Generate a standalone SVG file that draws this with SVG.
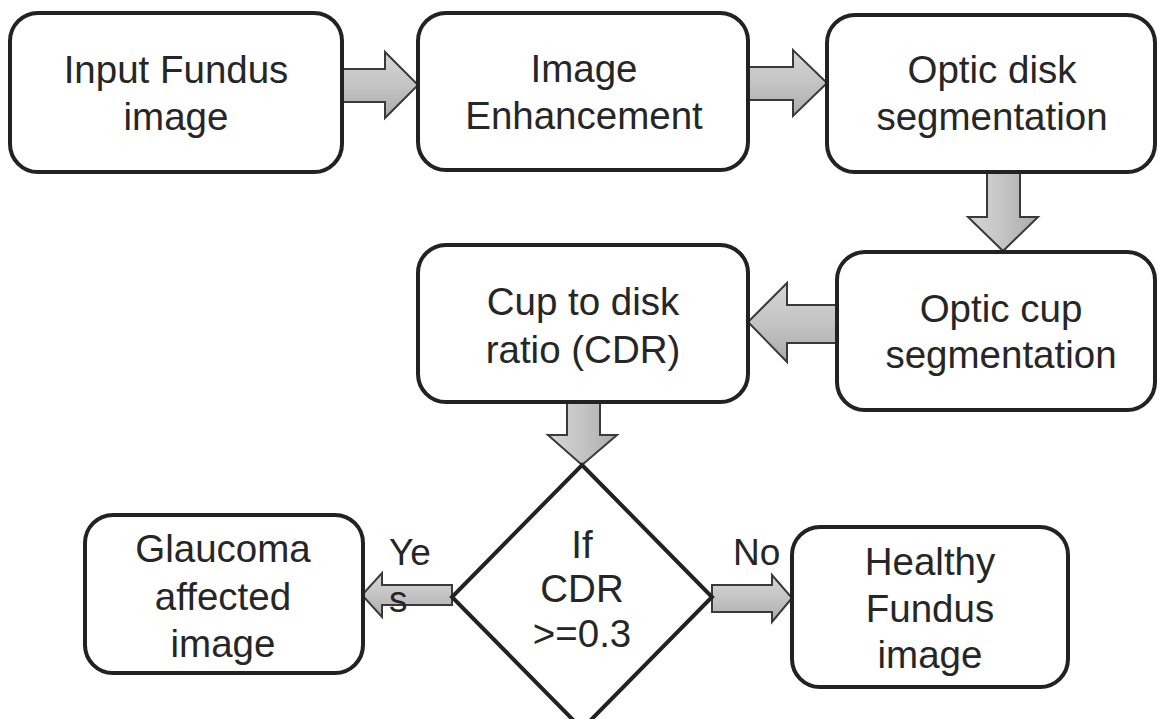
<svg xmlns="http://www.w3.org/2000/svg" width="1159" height="719" viewBox="0 0 1159 719">
  <defs>
    <linearGradient id="shadeH" x1="0" y1="0" x2="0" y2="1">
      <stop offset="0" stop-color="#d6d6d6"/>
      <stop offset="0.5" stop-color="#c4c4c4"/>
      <stop offset="1" stop-color="#ababab"/>
    </linearGradient>
    <linearGradient id="shadeV" x1="0" y1="0" x2="1" y2="0">
      <stop offset="0" stop-color="#d6d6d6"/>
      <stop offset="0.5" stop-color="#c4c4c4"/>
      <stop offset="1" stop-color="#ababab"/>
    </linearGradient>
  </defs>
  <style>
    .box { fill: #ffffff; stroke: #222222; stroke-width: 4; }
    .lbl { font-family: "Liberation Sans", Arial, Helvetica, sans-serif; font-size: 38.5px; fill: #262626; text-anchor: middle; }
    .side { font-family: "Liberation Sans", Arial, Helvetica, sans-serif; font-size: 37px; fill: #262626; }
    .arrH { fill: url(#shadeH); stroke: #3a3a3a; stroke-width: 2; stroke-linejoin: miter; }
    .arrV { fill: url(#shadeV); stroke: #3a3a3a; stroke-width: 2; stroke-linejoin: miter; }
  </style>
  <rect width="1159" height="719" fill="#ffffff"/>

  <!-- block arrows between the steps -->
  <g id="connectors">
    <polygon class="arrH" points="342,69 385,69 385,52 418,85 385,118 385,102 342,102"/>
    <polygon class="arrH" points="748,67 793,67 793,50 827,83 793,116 793,100 748,100"/>
    <polygon class="arrV" points="987,172 1020,172 1020,217 1038,217 1003,251 968,217 987,217"/>
    <polygon class="arrH" points="837,305 787,305 787,283 748,322 787,362 787,343 837,343"/>
    <polygon class="arrV" points="567,402 600,402 600,435 617,435 582,465 548,435 567,435"/>
    <polygon class="arrH" points="452,585 382,585 382,573 362,595 382,617 382,605 452,605"/>
    <polygon class="arrH" points="712,585 772,585 772,575 792,598 772,622 772,612 712,612"/>
  </g>

  <g id="input-fundus">
    <rect class="box" x="10" y="13" width="332" height="159" rx="28"/>
    <text class="lbl" x="176" y="83">Input Fundus</text>
    <text class="lbl" x="176" y="130">image</text>
  </g>

  <g id="image-enhancement">
    <rect class="box" x="418" y="13" width="330" height="157" rx="28"/>
    <text class="lbl" x="584" y="82">Image</text>
    <text class="lbl" x="584" y="129">Enhancement</text>
  </g>

  <g id="optic-disk">
    <rect class="box" x="827" y="15" width="328" height="157" rx="28"/>
    <text class="lbl" x="992" y="83">Optic disk</text>
    <text class="lbl" x="992" y="130">segmentation</text>
  </g>

  <g id="optic-cup">
    <rect class="box" x="837" y="252" width="318" height="158" rx="28"/>
    <text class="lbl" x="1001" y="322">Optic cup</text>
    <text class="lbl" x="1001" y="368">segmentation</text>
  </g>

  <g id="cup-disk-ratio">
    <rect class="box" x="418" y="245" width="330" height="157" rx="28"/>
    <text class="lbl" x="583" y="315">Cup to disk</text>
    <text class="lbl" x="583" y="363">ratio (CDR)</text>
  </g>

  <g id="decision">
    <polygon class="box" points="582,465 712,597 582,729 452,597"/>
    <text class="lbl" x="582" y="558">If</text>
    <text class="lbl" x="582" y="602">CDR</text>
    <text class="lbl" x="582" y="647">&gt;=0.3</text>
  </g>

  <g id="glaucoma">
    <rect class="box" x="85" y="515" width="278" height="158" rx="28"/>
    <text class="lbl" x="223" y="562">Glaucoma</text>
    <text class="lbl" x="223" y="610">affected</text>
    <text class="lbl" x="223" y="657">image</text>
  </g>

  <g id="healthy">
    <rect class="box" x="792" y="527" width="276" height="160" rx="28"/>
    <text class="lbl" x="930" y="575">Healthy</text>
    <text class="lbl" x="930" y="622">Fundus</text>
    <text class="lbl" x="930" y="668">image</text>
  </g>

  <g id="branch-labels">
    <text class="side" x="389" y="565">Ye</text>
    <text class="side" x="389" y="612">s</text>
    <text class="side" x="733" y="565">No</text>
  </g>
</svg>
